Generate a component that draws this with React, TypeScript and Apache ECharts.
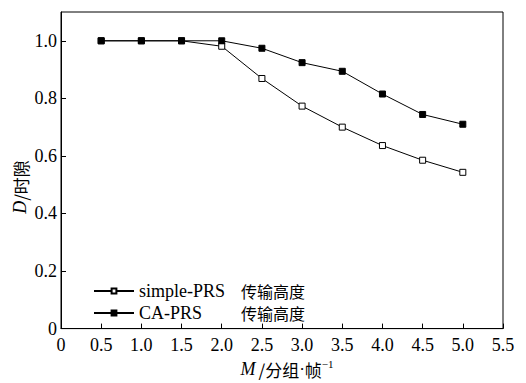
import React, { useEffect, useRef } from "react";
import * as echarts from "echarts";

const xValues = [0.5, 1.0, 1.5, 2.0, 2.5, 3.0, 3.5, 4.0, 4.5, 5.0];
const simplePRS = [1.0, 1.0, 1.0, 0.981, 0.869, 0.773, 0.7, 0.636, 0.585, 0.543];
const caPRS = [1.0, 1.0, 1.0, 1.0, 0.974, 0.924, 0.894, 0.815, 0.744, 0.71];
const seriesNames = ["simple-PRS", "CA-PRS"];
const legendSuffix = "传输高度";

const SERIF = "Liberation Serif";
const CJK = "Noto Sans CJK SC";

export default function App() {
  const ref = useRef<HTMLDivElement>(null);
  useEffect(() => {
    if (!ref.current) return;
    const chart = echarts.init(ref.current, null, { renderer: "svg" });
    const pairs = (vals: number[]) => xValues.map((x, i) => [x, vals[i]]);
    chart.setOption({
      animation: false,
      backgroundColor: "#fff",
      textStyle: { fontFamily: SERIF },
      grid: {
        left: 61,
        right: 23,
        top: 12,
        bottom: 51,
        show: true,
        borderColor: "#000",
        borderWidth: 1,
        backgroundColor: "transparent",
      },
      legend: {
        orient: "vertical",
        left: 88,
        top: 277,
        itemWidth: 40,
        itemHeight: 6,
        itemGap: 4,
        data: seriesNames,
        formatter: (name: string) => `{a|${name}}{b|${legendSuffix}}`,
        textStyle: {
          color: "#000",
          fontFamily: SERIF,
          fontSize: 18,
          lineHeight: 16,
          rich: {
            a: { fontFamily: SERIF, fontSize: 18, width: 102, color: "#000", lineHeight: 16 },
            b: { fontFamily: CJK, fontSize: 16, color: "#000", lineHeight: 16 },
          },
        },
      },
      graphic: [
        {
          type: "text",
          x: 20,
          y: 187,
          rotation: Math.PI / 2,
          style: {
            text: "{i|D}{n|/时隙}",
            align: "center",
            verticalAlign: "middle",
            rich: {
              i: { fontFamily: SERIF, fontStyle: "italic", fontSize: 18, fill: "#000" },
              n: { fontFamily: CJK, fontSize: 17, fill: "#000" },
            },
          },
        },
      ],
      xAxis: {
        type: "value",
        min: 0,
        max: 5.5,
        interval: 0.5,
        name: "{i|M} {n|/分组}{d|·}{n|帧}{s|−1}",
        nameLocation: "middle",
        nameGap: 27,
        nameTextStyle: {
          padding: [0, 0, 0, 10],
          rich: {
            i: { fontFamily: SERIF, fontStyle: "italic", fontSize: 18, color: "#000" },
            n: { fontFamily: CJK, fontSize: 17, color: "#000" },
            d: { fontFamily: SERIF, fontSize: 17, color: "#000" },
            s: { fontFamily: SERIF, fontSize: 11, color: "#000", padding: [0, 0, 10, 0] },
          },
        },
        axisLine: { show: true, lineStyle: { color: "#000", width: 1 } },
        axisTick: { show: true, inside: true, length: 5, lineStyle: { color: "#000" } },
        axisLabel: {
          color: "#000",
          fontFamily: SERIF,
          fontSize: 18,
          margin: 7,
          formatter: (v: number) => (v === 0 ? "0" : v.toFixed(1)),
        },
        splitLine: { show: false },
      },
      yAxis: {
        type: "value",
        min: 0,
        max: 1.1,
        interval: 0.2,
        axisLine: { show: true, lineStyle: { color: "#000", width: 1 } },
        axisTick: { show: true, inside: true, length: 5, lineStyle: { color: "#000" } },
        axisLabel: {
          color: "#000",
          fontFamily: SERIF,
          fontSize: 18,
          margin: 4,
          showMaxLabel: false,
          formatter: (v: number) => (v === 0 ? "0" : v > 1.05 ? "" : v.toFixed(1)),
        },
        splitLine: { show: false },
      },
      series: [
        {
          name: seriesNames[0],
          type: "line",
          data: pairs(simplePRS),
          symbol: "rect",
          symbolSize: 6,
          lineStyle: { color: "#000", width: 1 },
          itemStyle: { color: "#fff", borderColor: "#000", borderWidth: 1 },
          z: 2,
        },
        {
          name: seriesNames[1],
          type: "line",
          data: pairs(caPRS),
          symbol: "rect",
          symbolSize: 6,
          lineStyle: { color: "#000", width: 1 },
          itemStyle: { color: "#000", borderColor: "#000", borderWidth: 1 },
          z: 3,
        },
      ],
    });
    return () => chart.dispose();
  }, []);
  return <div ref={ref} style={{ width: 526, height: 383, position: "absolute", left: 0, top: 0 }} />;
}
